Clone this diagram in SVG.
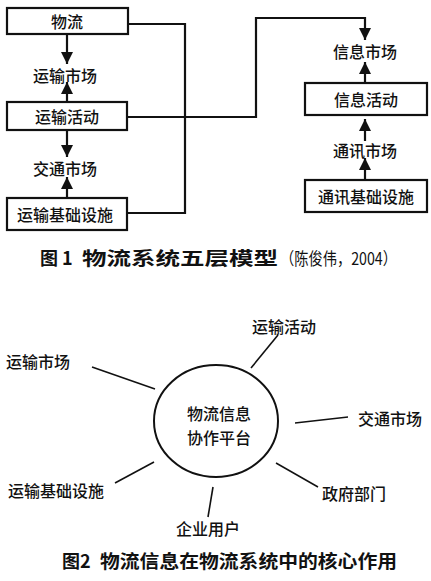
<svg xmlns="http://www.w3.org/2000/svg" width="431" height="581" viewBox="0 0 431 581">
<defs>
<style>
.t{font-family:"Noto Sans CJK SC","Liberation Sans",sans-serif;font-size:16px;fill:#111;text-anchor:middle;dominant-baseline:central;font-weight:500}
.box{fill:#fff;stroke:#111;stroke-width:2.2}
.ln{fill:none;stroke:#111;stroke-width:2.2}
.thin{fill:none;stroke:#111;stroke-width:1.6}
.cap{font-family:"Noto Sans CJK SC","Liberation Sans",sans-serif;font-size:18px;fill:#111;dominant-baseline:central;font-weight:bold}
</style>
<marker id="ah" markerUnits="userSpaceOnUse" markerWidth="13" markerHeight="12" viewBox="0 0 13 12" refX="12" refY="6" orient="auto">
<path d="M0,0 L12,6 L0,12 Z" fill="#111"/>
</marker>
</defs>
<rect width="431" height="581" fill="#fff"/>
<g id="connectors">
<path class="ln" d="M128,24 H185 V213 H128"/>
<path class="ln" d="M127,117 H256 V18 H365 V40" marker-end="url(#ah)"/>
<path class="ln" d="M67,34 V64" marker-end="url(#ah)"/>
<path class="ln" d="M67,102 V82" marker-end="url(#ah)"/>
<path class="ln" d="M67,130 V157" marker-end="url(#ah)"/>
<path class="ln" d="M67,198 V177" marker-end="url(#ah)"/>
<path class="ln" d="M365,83 V62" marker-end="url(#ah)"/>
<path class="ln" d="M365,141 V119" marker-end="url(#ah)"/>
<path class="ln" d="M365,180 V158" marker-end="url(#ah)"/>
<path class="thin" d="M92,367 L155,389"/>
<path class="thin" d="M278,335 L251,368"/>
<path class="thin" d="M295,423 L348,417"/>
<path class="thin" d="M115,483 L154,462"/>
<path class="thin" d="M276,463 L318,487"/>
<path class="thin" d="M213,487 L208,517"/>
</g>
<g id="n-wuliu"><rect class="box" x="7" y="8" width="121" height="26"/><text class="t" x="67" y="21">物流</text></g>
<g id="n-ysc"><text class="t" x="65" y="75">运输市场</text></g>
<g id="n-yshd"><rect class="box" x="7" y="102" width="120" height="28"/><text class="t" x="67" y="116">运输活动</text></g>
<g id="n-jtsc"><text class="t" x="65" y="168">交通市场</text></g>
<g id="n-ysjc"><rect class="box" x="7" y="198" width="120" height="32"/><text class="t" x="65" y="214">运输基础设施</text></g>
<g id="n-xxsc"><text class="t" x="365" y="51">信息市场</text></g>
<g id="n-xxhd"><rect class="box" x="305" y="83" width="122" height="32"/><text class="t" x="366" y="99">信息活动</text></g>
<g id="n-txsc"><text class="t" x="365" y="150">通讯市场</text></g>
<g id="n-txjc"><rect class="box" x="305" y="180" width="122" height="32"/><text class="t" x="366" y="196">通讯基础设施</text></g>
<g id="cap1">
<text class="cap" x="40" y="257">图 1</text>
<text class="cap" x="82" y="257" textLength="196" lengthAdjust="spacingAndGlyphs">物流系统五层模型</text>
<text class="cap" x="280" y="257" textLength="117" lengthAdjust="spacingAndGlyphs" style="font-weight:normal;font-size:17px">（陈俊伟，2004）</text>
</g>
<g id="n-platform"><ellipse cx="216" cy="421" rx="62" ry="56" fill="none" stroke="#111" stroke-width="2"/><text class="t" x="219" y="413">物流信息</text><text class="t" x="219" y="437">协作平台</text></g>
<g id="n-b-ysc"><text class="t" x="38" y="361">运输市场</text></g>
<g id="n-b-yshd"><text class="t" x="284" y="326">运输活动</text></g>
<g id="n-b-jtsc"><text class="t" x="390" y="418">交通市场</text></g>
<g id="n-b-ysjc"><text class="t" x="56" y="490">运输基础设施</text></g>
<g id="n-b-zf"><text class="t" x="354" y="493">政府部门</text></g>
<g id="n-b-qy"><text class="t" x="208" y="528">企业用户</text></g>
<g id="cap2">
<text class="cap" x="62" y="560">图2</text>
<text class="cap" x="100" y="560" textLength="297" lengthAdjust="spacingAndGlyphs">物流信息在物流系统中的核心作用</text>
</g>
</svg>
